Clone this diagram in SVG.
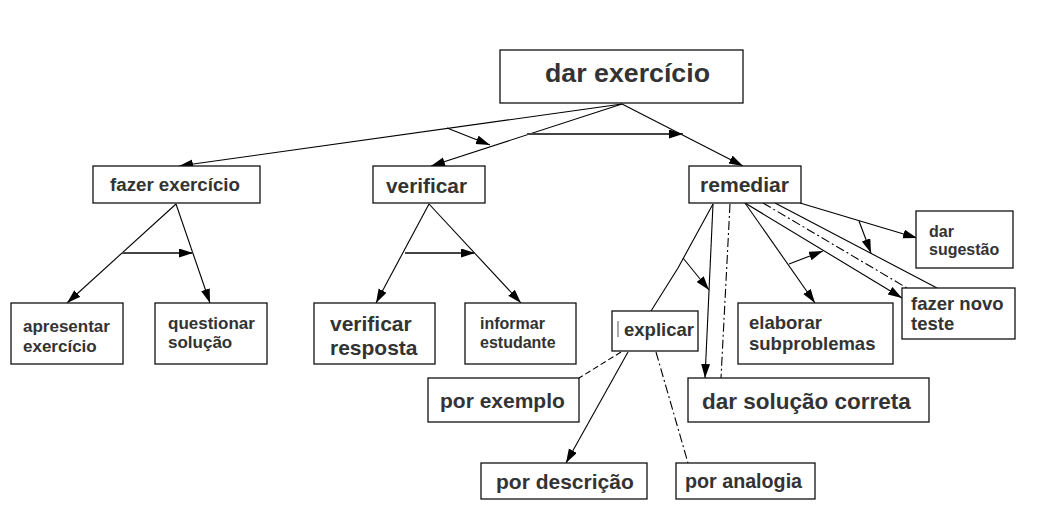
<svg xmlns="http://www.w3.org/2000/svg" width="1048" height="531" viewBox="0 0 1048 531">
<style>
rect.box{fill:#fff;stroke:#111;stroke-width:1.3}
text{font-family:"Liberation Sans",Arial,sans-serif;font-weight:bold;fill:#333}
.ln{fill:none;stroke:#000;stroke-width:1.1}
.arr{marker-end:url(#ah)}
.seq{fill:none;stroke:#444;stroke-width:1.8;marker-end:url(#ah)}
.dd{fill:none;stroke:#000;stroke-width:1.1;stroke-dasharray:9 3 2 3}
.dash{fill:none;stroke:#000;stroke-width:1.1;stroke-dasharray:6 3}
</style>
<defs>
<marker id="ah" markerWidth="15" markerHeight="10" refX="14" refY="4.5" orient="auto" markerUnits="userSpaceOnUse">
<path d="M0,0 L14,4.5 L0,9 z" fill="#000"/>
</marker>
</defs>
<rect width="1048" height="531" fill="#fff"/>
<g id="connectors">
<line class="ln arr" x1="622" y1="104" x2="179" y2="166"/>
<line class="ln arr" x1="622" y1="104" x2="431" y2="166"/>
<line class="ln arr" x1="622" y1="104" x2="743" y2="166"/>
<line class="ln arr" x1="447" y1="128" x2="490" y2="145"/>
<line class="seq" x1="527" y1="134" x2="683" y2="134"/>
<line class="ln arr" x1="176" y1="204" x2="67" y2="303"/>
<line class="ln arr" x1="176" y1="204" x2="210" y2="303"/>
<line class="seq" x1="122" y1="253" x2="193" y2="253"/>
<line class="ln arr" x1="429" y1="204" x2="376" y2="303"/>
<line class="ln arr" x1="429" y1="204" x2="521" y2="303"/>
<line class="seq" x1="405" y1="253" x2="475" y2="253"/>
<polyline class="ln" points="713,204 678,268 651,311"/>
<line class="ln arr" x1="683" y1="258" x2="709" y2="290"/>
<line class="ln arr" x1="713" y1="204" x2="705" y2="378"/>
<line class="dd" x1="730" y1="204" x2="721" y2="378"/>
<line class="ln arr" x1="745" y1="203" x2="815" y2="303"/>
<line class="ln arr" x1="789" y1="264" x2="823" y2="251"/>
<line class="ln arr" x1="745" y1="203" x2="902" y2="298"/>
<line class="dd" x1="763" y1="203" x2="907" y2="288"/>
<line class="ln" x1="775" y1="203" x2="937" y2="288"/>
<line class="ln arr" x1="800" y1="203" x2="917" y2="238"/>
<line class="ln arr" x1="859" y1="221" x2="871" y2="253"/>
<line class="dash" x1="621" y1="352" x2="579" y2="378"/>
<line class="ln arr" x1="628" y1="352" x2="566" y2="463"/>
<line class="dd" x1="656" y1="352" x2="688" y2="463"/>
</g>
<g id="dar-exercicio"><rect class="box" x="500" y="50" width="243" height="53"/><text x="545" y="82" font-size="26" textLength="165" lengthAdjust="spacingAndGlyphs">dar exercício</text></g>
<g id="fazer-exercicio"><rect class="box" x="93" y="166" width="167" height="37"/><text x="110" y="191" font-size="18" textLength="130" lengthAdjust="spacingAndGlyphs">fazer exercício</text></g>
<g id="verificar"><rect class="box" x="373" y="166" width="112" height="37"/><text x="386" y="193" font-size="20" textLength="81" lengthAdjust="spacingAndGlyphs">verificar</text></g>
<g id="remediar"><rect class="box" x="689" y="166" width="112" height="37"/><text x="700" y="192" font-size="20" textLength="89" lengthAdjust="spacingAndGlyphs">remediar</text></g>
<g id="apresentar-exercicio"><rect class="box" x="11" y="303" width="112" height="61"/><text x="23" y="332" font-size="17">apresentar</text><text x="23" y="352" font-size="17">exercício</text></g>
<g id="questionar-solucao"><rect class="box" x="155" y="303" width="112" height="61"/><text x="168" y="329" font-size="17">questionar</text><text x="168" y="348" font-size="17">solução</text></g>
<g id="verificar-resposta"><rect class="box" x="314" y="303" width="121" height="61"/><text x="330" y="331" font-size="21">verificar</text><text x="330" y="355" font-size="21">resposta</text></g>
<g id="informar-estudante"><rect class="box" x="465" y="303" width="111" height="61"/><text x="480" y="329" font-size="16">informar</text><text x="480" y="348" font-size="16">estudante</text></g>
<g id="explicar"><rect class="box" x="612" y="311" width="86" height="40"/><line x1="618" y1="321" x2="618" y2="337" stroke="#555" stroke-width="1"/><text x="624" y="336" font-size="18.5" textLength="70" lengthAdjust="spacingAndGlyphs">explicar</text></g>
<g id="elaborar-subproblemas"><rect class="box" x="738" y="303" width="155" height="61"/><text x="749" y="329" font-size="18.5">elaborar</text><text x="749" y="350" font-size="18.5">subproblemas</text></g>
<g id="fazer-novo-teste"><rect class="box" x="902" y="288" width="113" height="51"/><text x="911" y="310" font-size="18.5">fazer novo</text><text x="911" y="330" font-size="18.5">teste</text></g>
<g id="dar-sugestao"><rect class="box" x="916" y="211" width="97" height="57"/><text x="929" y="237" font-size="16">dar</text><text x="929" y="255" font-size="16">sugestão</text></g>
<g id="dar-solucao-correta"><rect class="box" x="688" y="378" width="241" height="44"/><text x="702" y="409" font-size="22.5">dar solução correta</text></g>
<g id="por-exemplo"><rect class="box" x="428" y="378" width="151" height="44"/><text x="440" y="408" font-size="21">por exemplo</text></g>
<g id="por-descricao"><rect class="box" x="481" y="463" width="166" height="36"/><text x="496" y="489" font-size="21">por descrição</text></g>
<g id="por-analogia"><rect class="box" x="676" y="463" width="139" height="36"/><text x="685" y="488" font-size="19.7">por analogia</text></g>
</svg>
